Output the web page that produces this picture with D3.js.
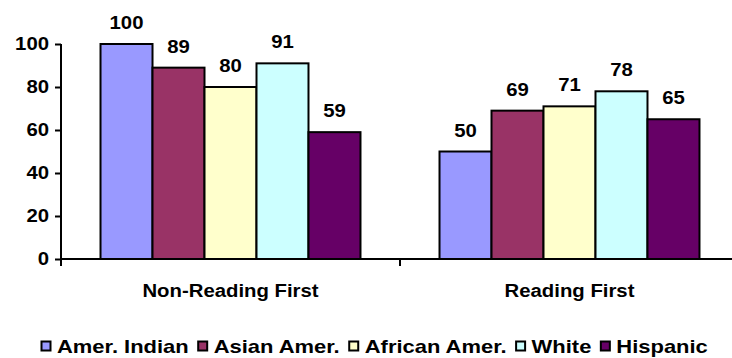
<!DOCTYPE html>
<html>
<head>
<meta charset="utf-8">
<script src="https://cdn.jsdelivr.net/npm/d3@7"></script>
<style>
  html, body { margin: 0; padding: 0; background: #fff; }
  svg { display: block; }
  text { font-family: "Liberation Sans", Arial, sans-serif; font-weight: bold; fill: #000; }
</style>
</head>
<body>
<svg id="chart" width="732" height="358"></svg>
<script>
// Program groups along the x axis
const categories = ["Non-Reading First", "Reading First"];
// Student groups, one bar each per program
const series = ["Amer. Indian", "Asian Amer.", "African Amer.", "White", "Hispanic"];
// Values per series, ordered as categories
const amerIndian   = [100, 50];
const asianAmer    = [89, 69];
const africanAmer  = [80, 71];
const white        = [91, 78];
const hispanic     = [59, 65];
const yTicks = [0, 20, 40, 60, 80, 100];
const colors = ["#9999FF", "#993366", "#FFFFCC", "#CCFFFF", "#660066"];

const seriesValues = [amerIndian, asianAmer, africanAmer, white, hispanic];

const svg = d3.select("#chart");
const SX = 1.13;        // horizontal stretch of the lettering
const FS = 18;          // font size
const LEG_SX = 1.22;    // legend lettering is a touch wider

const plot = { left: 61, right: 739, top: 44, bottom: 259 };

const x0 = d3.scaleBand().domain(categories).range([plot.left, plot.right]).paddingInner(0).paddingOuter(0);
const x1 = d3.scaleBand().domain(series).range([0, x0.bandwidth()]).paddingInner(0).paddingOuter(0.76);
const y = d3.scaleLinear().domain([0, 100]).range([plot.bottom, plot.top]);

// Y axis
const yAxis = svg.append("g")
  .attr("transform", `translate(${plot.left},0)`)
  .call(d3.axisLeft(y).tickValues(yTicks).tickSize(6).tickSizeOuter(0).tickPadding(8));
yAxis.select(".domain").attr("stroke", "#000").attr("stroke-width", 2)
  .attr("d", `M0,${plot.top}V${plot.bottom + 7}`);
yAxis.selectAll(".tick line").attr("stroke", "#000").attr("stroke-width", 2);
yAxis.selectAll(".tick text")
  .style("font-size", FS + "px")
  .attr("font-family", null)
  .attr("transform", `scale(${SX},1)`)
  .attr("x", -12 / SX);

// Bars
const groups = svg.append("g").selectAll("g")
  .data(categories)
  .join("g")
  .attr("transform", d => `translate(${x0(d)},0)`);

groups.each(function(cat, ci) {
  const g = d3.select(this);
  series.forEach((s, si) => {
    const v = seriesValues[si][ci];
    g.append("rect")
      .attr("x", x1(s))
      .attr("y", y(v))
      .attr("width", x1.bandwidth())
      .attr("height", y(0) - y(v))
      .attr("fill", colors[si])
      .attr("stroke", "#000")
      .attr("stroke-width", 2);
    g.append("text")
      .attr("text-anchor", "middle")
      .attr("transform", `translate(${x1(s) + x1.bandwidth() / 2},${y(v) - 15}) scale(${SX},1)`)
      .style("font-size", FS + "px")
      .text(v);
  });
});

// X axis
const xAxis = svg.append("g")
  .attr("transform", `translate(0,${plot.bottom})`);
xAxis.append("line")
  .attr("x1", plot.left).attr("x2", plot.right)
  .attr("stroke", "#000").attr("stroke-width", 2);
xAxis.selectAll(".xtick")
  .data(categories.slice(1))
  .join("line")
  .attr("x1", d => x0(d)).attr("x2", d => x0(d))
  .attr("y1", 0).attr("y2", 7)
  .attr("stroke", "#000").attr("stroke-width", 2);
xAxis.selectAll(".xlabel")
  .data(categories)
  .join("text")
  .attr("text-anchor", "middle")
  .attr("transform", d => `translate(${x0(d) + x0.bandwidth() / 2},38) scale(${SX},1)`)
  .style("font-size", FS + "px")
  .text(d => d);

// Legend
const legend = svg.append("g").attr("transform", "translate(41,353)");
let lx = 0;
series.forEach((s, i) => {
  const item = legend.append("g").attr("transform", `translate(${lx},0)`);
  item.append("rect")
    .attr("x", 0.5).attr("y", -11.5)
    .attr("width", 9).attr("height", 9)
    .attr("fill", colors[i]).attr("stroke", "#000").attr("stroke-width", 2);
  const t = item.append("text")
    .attr("transform", `translate(16,0) scale(${LEG_SX},1)`)
    .style("font-size", FS + "px")
    .text(s);
  lx += 16 + t.node().getComputedTextLength() * LEG_SX + 9;
});
</script>
</body>
</html>
